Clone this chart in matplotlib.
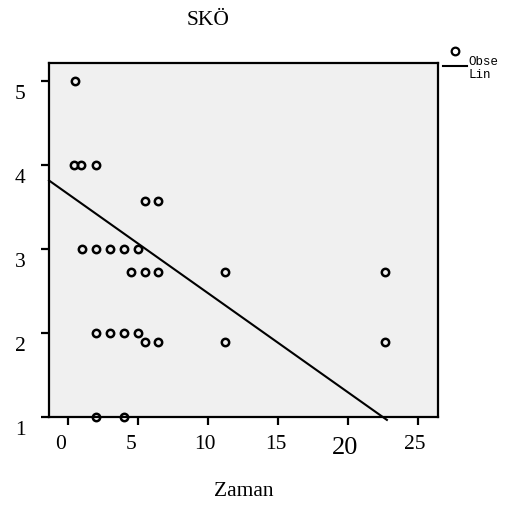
import matplotlib
matplotlib.use("Agg")
import matplotlib.pyplot as plt
from matplotlib.lines import Line2D
from matplotlib.transforms import ScaledTranslation

# ---- data ----
x_vals = [0.5, 0.4, 0.9, 2.0, 5.5, 6.4,
          1.0, 2.0, 3.0, 4.0, 5.0,
          4.5, 5.5, 6.4, 11.2, 22.6,
          2.0, 3.0, 4.0, 5.0,
          5.5, 6.4, 11.2, 22.6,
          2.0, 4.0]
y_vals = [5, 4, 4, 4, 3.57, 3.57,
          3, 3, 3, 3, 3,
          2.73, 2.73, 2.73, 2.73, 2.73,
          2, 2, 2, 2,
          1.89, 1.89, 1.89, 1.89,
          1, 1]
fit_intercept = 3.65
fit_slope = -0.118
fit_x = [-1.38, 22.75]
x_ticks = [0, 5, 10, 15, 20, 25]
y_ticks = [1, 2, 3, 4, 5]
title = "SKÖ"
x_label = "Zaman"
legend_labels = ["Obse", "Lin"]

W, H = 529, 532
fig = plt.figure(figsize=(W / 100, H / 100), dpi=100)
fig.patch.set_facecolor("white")
ax = fig.add_axes([49 / W, 1 - 417 / H, (438 - 49) / W, (417 - 63) / H])
ax.set_facecolor("#f0f0f0")

serif = "Liberation Serif"

ax.plot(x_vals, y_vals, linestyle="none", marker="o", markersize=5.3,
        markerfacecolor="none", markeredgecolor="black", markeredgewidth=1.8,
        clip_on=False, zorder=3)
fit_y = [fit_intercept + fit_slope * v for v in fit_x]
ax.plot(fit_x, fit_y, color="black", linewidth=1.5, clip_on=False, zorder=2)

ax.set_xlim(-1.38, 26.4)
ax.set_ylim(1.0, 5.21)
ax.set_xticks(x_ticks)
ax.set_yticks(y_ticks)
ax.set_xticklabels([str(t) for t in x_ticks], fontfamily=serif, fontsize=15.5)
ax.set_yticklabels([str(t) for t in y_ticks], fontfamily=serif, fontsize=15.5)

for s in ax.spines.values():
    s.set_linewidth(1.6)
    s.set_color("black")
ax.tick_params(axis="x", length=6, width=1.6, pad=7, color="black")
ax.tick_params(axis="y", length=6, width=1.6, pad=11, color="black")

# label offsets to mimic reference
for lbl, t in zip(ax.get_xticklabels(), x_ticks):
    dx = -7.5 if t < 10 else (-4 if t == 25 else -3)
    dy = 0
    if t == 20:
        lbl.set_fontsize(19)
        dy = -2
    lbl.set_transform(lbl.get_transform() + ScaledTranslation(dx / 100, dy / 100, fig.dpi_scale_trans))
for lbl in ax.get_yticklabels():
    lbl.set_transform(lbl.get_transform() + ScaledTranslation(0, -11 / 100, fig.dpi_scale_trans))

fig.text(208 / W, 1 - 25 / H, title, fontfamily=serif, fontsize=15.5,
         ha="center", va="baseline")
fig.text(244 / W, 1 - 496 / H, x_label, fontfamily=serif, fontsize=15.5,
         ha="center", va="baseline")

# legend (truncated, as in reference)
fig.add_artist(Line2D([455 / W], [1 - 51 / H], marker="o", markersize=5.5,
                      markerfacecolor="none", markeredgecolor="black",
                      markeredgewidth=1.6, transform=fig.transFigure))
fig.add_artist(Line2D([443 / W, 467 / W], [1 - 65.7 / H, 1 - 65.7 / H],
                      color="black", linewidth=1.5, transform=fig.transFigure))
fig.text(468 / W, 1 - 65 / H, legend_labels[0], fontfamily="Liberation Mono",
         fontsize=9, ha="left", va="baseline")
fig.text(468 / W, 1 - 77.5 / H, legend_labels[1], fontfamily="Liberation Mono",
         fontsize=9, ha="left", va="baseline")

fig.savefig("out.png", dpi=100)
